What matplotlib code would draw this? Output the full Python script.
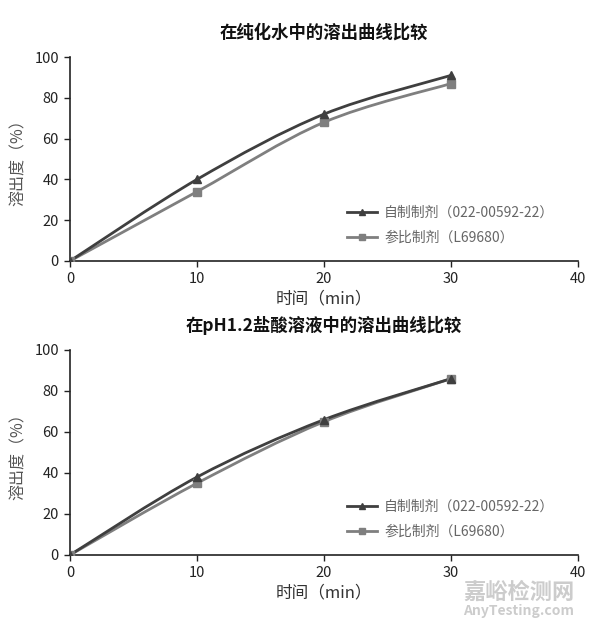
import numpy as np
import matplotlib
matplotlib.use("Agg")
import matplotlib.pyplot as plt
from matplotlib.path import Path
from matplotlib.patches import PathPatch
from matplotlib.lines import Line2D

plt.rcParams['font.family'] = ['Noto Sans CJK SC', 'DejaVu Sans']

# 数据
t_min = [0, 10, 20, 30]
water_self = [0, 40, 72, 91]
water_ref = [0, 34, 68, 87]
acid_self = [0, 38, 66, 86]
acid_ref = [0, 35, 65, 86]

titles = ['在纯化水中的溶出曲线比较', '在pH1.2盐酸溶液中的溶出曲线比较']
label_self = '自制制剂（022-00592-22）'
label_ref = '参比制剂（L69680）'

c_self = '#3f3f3f'
c_ref = '#7f7f7f'


def smooth_path(x, y):
    # Excel 风格平滑线：Catmull-Rom 转三次贝塞尔
    x = np.asarray(x, float)
    y = np.asarray(y, float)
    n = len(x)
    verts = [(x[0], y[0])]
    codes = [Path.MOVETO]
    for i in range(n - 1):
        p0 = (x[i - 1], y[i - 1]) if i > 0 else (x[i], y[i])
        p1 = (x[i], y[i])
        p2 = (x[i + 1], y[i + 1])
        p3 = (x[i + 2], y[i + 2]) if i + 2 < n else (x[i + 1], y[i + 1])
        c1 = (p1[0] + (p2[0] - p0[0]) / 6, p1[1] + (p2[1] - p0[1]) / 6)
        c2 = (p2[0] - (p3[0] - p1[0]) / 6, p2[1] - (p3[1] - p1[1]) / 6)
        verts += [c1, c2, p2]
        codes += [Path.CURVE4] * 3
    return Path(verts, codes)


def draw_panel(ax, title, y_self, y_ref):
    for yy, col, mk, ms in [(y_ref, c_ref, 's', 6), (y_self, c_self, '^', 6)]:
        ax.add_patch(PathPatch(smooth_path(t_min, yy), fill=False,
                               edgecolor=col, lw=2, zorder=3))
        ax.plot(t_min, yy, ls='none', marker=mk, ms=ms, color=col, zorder=4)
    ax.set_xlim(0, 40)
    ax.set_ylim(0, 100)
    ax.set_xticks([0, 10, 20, 30, 40])
    ax.set_yticks([0, 20, 40, 60, 80, 100])
    for s in ['top', 'right']:
        ax.spines[s].set_visible(False)
    for s in ['left', 'bottom']:
        ax.spines[s].set_linewidth(1.2)
        ax.spines[s].set_color('#222222')
    ax.tick_params(direction='out', length=4, width=1, labelsize=10.5,
                   colors='#222222', pad=4)
    ax.set_xlabel('时间（min）', fontsize=12, color='#333333', labelpad=3)
    ax.set_ylabel('溶出度（%）', fontsize=11.5, color='#555555', labelpad=5)
    ax.set_title(title, fontsize=12.5, fontweight='bold', color='#111111', pad=14)
    handles = [
        Line2D([], [], color=c_self, lw=2, marker='^', ms=5),
        Line2D([], [], color=c_ref, lw=2, marker='s', ms=5),
    ]
    ax.legend(handles, [label_self, label_ref], loc='lower left',
              bbox_to_anchor=(0.52, 0.02), frameon=False, fontsize=10,
              labelcolor='#666666', handlelength=2.2, handletextpad=0.5,
              labelspacing=0.75)


fig = plt.figure(figsize=(6.0, 6.18), dpi=100)
ax1 = fig.add_axes([0.1167, 0.5777, 0.8466, 0.330])
ax2 = fig.add_axes([0.1167, 0.102, 0.8466, 0.3317])

draw_panel(ax1, titles[0], water_self, water_ref)
draw_panel(ax2, titles[1], acid_self, acid_ref)

# 水印（放在刻度标签下方，避免重叠）
fig.text(0.865, 0.041, '嘉峪检测网', fontsize=16, color='#cccccc',
         ha='center', va='center', fontweight='bold', zorder=0)
fig.text(0.865, 0.012, 'AnyTesting.com', fontsize=10, color='#cccccc',
         ha='center', va='center', style='italic', fontweight='bold', zorder=0)

fig.savefig('out.png', dpi=100)
